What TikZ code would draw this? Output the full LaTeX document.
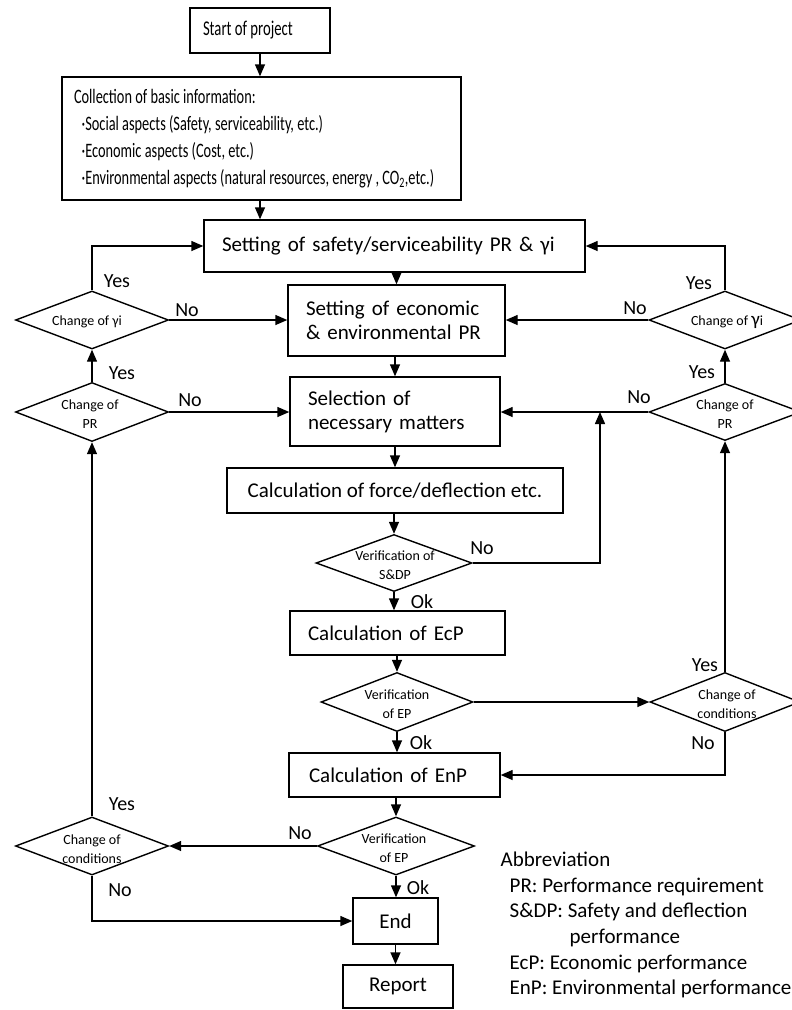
\documentclass[tikz,border=0pt]{standalone}
\usepackage{fontspec}
\usepackage{graphicx}
\setmainfont{Carlito}
\usetikzlibrary{shapes.geometric,arrows.meta}

\begin{document}
\begin{tikzpicture}[x=1pt,y=-1pt,
  line width=1.4pt,
  box/.style={draw, rectangle, inner sep=0pt, font=\fontsize{21}{24}\selectfont, align=center},
  lbox/.style={box, align=left, inner xsep=18pt},
  dia/.style={draw, diamond, inner sep=0pt, minimum width=153pt, minimum height=58pt},
  dtext/.style={font=\fontsize{14}{18.5}\selectfont, align=center, inner sep=0pt},
  arr/.style={-{Triangle[length=12pt,width=10pt]}},
  lab/.style={font=\fontsize{20}{24}\selectfont, inner sep=0pt},
]
\useasboundingbox (0,0) rectangle (792,1010);

% ---- main column ----
\node[box, minimum width=140pt, minimum height=45pt] (start) at (260,30.5)
  {\makebox[114pt][l]{\scalebox{0.7}[1]{Start of project}}};

\node[box, minimum width=399pt, minimum height=123pt] (collect) at (261.5,138.5)
  {\makebox[375pt][l]{\scalebox{0.7}[1]{\fontsize{20.5}{27}\selectfont
   \begin{tabular}{@{}l@{}}
   Collection of basic information:\\
   \hspace*{11pt}·Social aspects (Safety, serviceability, etc.)\\
   \hspace*{11pt}·Economic aspects (Cost, etc.)\\
   \hspace*{11pt}·Environmental aspects (natural resources, energy , CO\textsubscript{2},etc.)
   \end{tabular}}}};

\node[lbox, text width=345pt, minimum height=52pt] (safety) at (394.5,246)
  {Setting of safety/serviceability PR \& γi};
\node[lbox, text width=181pt, minimum height=71pt] (econ) at (396.5,320.5)
  {Setting of economic\\\& environmental PR};
\node[lbox, text width=174pt, minimum height=69pt] (select) at (395,411.5)
  {Selection of\\necessary matters};
\node[box, minimum width=336pt, minimum height=45pt] (force) at (395,490.5)
  {Calculation of force/deflection etc.};
\node[dia, minimum width=156pt, minimum height=57pt] (d1) at (394,563) {};
\node[dtext] (d1t) at (395,565) {Verification of\\S\&DP};
\node[lbox, text width=179pt, minimum height=44pt] (ecp) at (397.5,633)
  {Calculation of EcP};
\node[dia, minimum width=152pt, minimum height=59pt] (d2) at (397,702) {};
\node[dtext] (d2t) at (397,704) {Verification\\of EP};
\node[lbox, text width=171pt, inner xsep=20pt, minimum height=44pt] (enp) at (394.5,775)
  {Calculation of EnP};
\node[dia, minimum width=157pt, minimum height=58pt] (d3) at (396,846) {};
\node[dtext] (d3t) at (394,848) {Verification\\of EP};
\node[box, minimum width=85pt, minimum height=46pt] (fin) at (395.5,921) {End};
\node[box, minimum width=110pt, minimum height=43pt] (report) at (398,986.5) {Report};

% ---- side decisions ----
\node[dia] (lg) at (92,320) {};
\node[dtext] (lgt) at (87,322) {Change of γi};
\node[dia, minimum height=59pt] (lp) at (92,412) {};
\node[dtext] (lpt) at (90,414) {Change of\\PR};
\node[dia] (lc) at (92,846) {};
\node[dtext] (lct) at (92,849) {Change of\\conditions};
\node[dia, minimum width=152pt] (rg) at (725,320) {};
\node[dtext] (rgt) at (727,322) {Change of {\fontsize{19}{19}\selectfont γ}i};
\node[dia, minimum width=152pt, minimum height=57pt] (rp) at (725,412) {};
\node[dtext] (rpt) at (725,414) {Change of\\PR};
\node[dia, minimum width=150pt, minimum height=59pt] (rc) at (725,702) {};
\node[dtext] (rct) at (727,704) {Change of\\conditions};

\coordinate (j1) at (600,412);

% ---- main flow ----
\draw[arr] (start.south) -- (start.south |- collect.north);
\draw[arr] (collect.south -| start.south) -- (safety.north -| start.south);
\draw[arr] (safety.south -| econ.north) -- (econ.north);
\draw[arr] (econ.south -| select.north) -- (select.north);
\draw[arr] (select.south) -- (select.south |- force.north);
\draw[arr] (force.south -| d1.north) -- (d1.north);
\draw[arr] (d1.south) -- (d1.south |- ecp.north);
\draw[arr] (ecp.south -| d2.north) -- (d2.north);
\draw[arr] (d2.south) -- (d2.south |- enp.north);
\draw[arr] (enp.south -| d3.north) -- (d3.north);
\draw[arr] (d3.south) -- (d3.south |- fin.north);
\draw[arr] (fin.south) -- (fin.south |- report.north);

% ---- loops ----
\draw[arr] (d1.east) -| (j1);
\draw[arr] (d2.east) -- (rc.west);
\draw[arr] (rc.north) -- (rp.south);
\draw[arr] (rc.south) |- (enp.east);
\draw[arr] (rp.north) -- (rg.south);
\draw[arr] (rp.west) -- (rp.west -| select.east);
\draw[arr] (rg.north) |- (safety.east);
\draw[arr] (rg.west) -- (rg.west -| econ.east);
\draw[arr] (d3.west) -- (lc.east);
\draw[arr] (lc.north) -- (lp.south);
\draw[arr] (lc.south) |- (fin.west);
\draw[arr] (lp.north) -- (lg.south);
\draw[arr] (lp.east) -- (lp.east -| select.west);
\draw[arr] (lg.north) |- (safety.west);
\draw[arr] (lg.east) -- (lg.east -| econ.west);

% ---- branch labels ----
\node[lab] (l1) at (117,281) {Yes};
\node[lab] (l2) at (187,310) {No};
\node[lab] (l3) at (122,373) {Yes};
\node[lab] (l4) at (190,400) {No};
\node[lab] (l5) at (699,283) {Yes};
\node[lab] (l6) at (635,308) {No};
\node[lab] (l7) at (702,372) {Yes};
\node[lab] (l8) at (639,397) {No};
\node[lab] (l9) at (482,548) {No};
\node[lab] (l10) at (422,602) {Ok};
\node[lab] (l11) at (705,665) {Yes};
\node[lab] (l12) at (703,743) {No};
\node[lab] (l13) at (421,743) {Ok};
\node[lab] (l14) at (300,833) {No};
\node[lab] (l15) at (418,888) {Ok};
\node[lab] (l16) at (122,804) {Yes};
\node[lab] (l17) at (120,890) {No};

% ---- abbreviations ----
\node[anchor=north west, inner sep=0pt, align=left, font=\fontsize{21}{25.6}\selectfont] (abbr) at (500,851.5)
  {Abbreviation\\
   \hspace*{9pt}PR: Performance requirement\\
   \hspace*{9pt}S\&DP: Safety and deflection\\
   \hspace*{69pt}performance\\
   \hspace*{9pt}EcP: Economic performance\\
   \hspace*{9pt}EnP: Environmental performance};
\end{tikzpicture}
\end{document}
